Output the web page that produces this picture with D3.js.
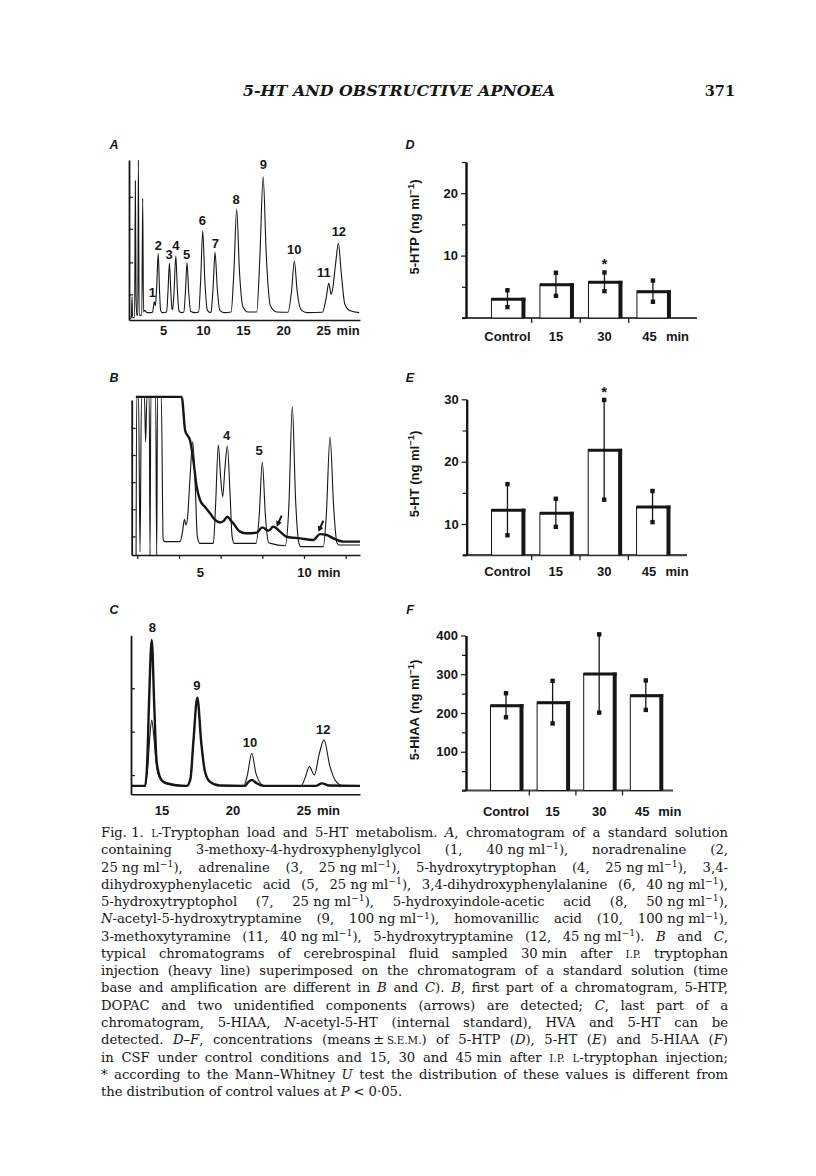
<!DOCTYPE html>
<html><head><meta charset="utf-8">
<script src="https://cdn.jsdelivr.net/npm/d3@7"></script>
<style>body{margin:0;background:#fff}svg{display:block}</style>
</head><body>
<svg id="page" width="816" height="1176"></svg>
<script>
// ---------------- DATA ----------------
// Chromatogram A (standard solution): [time (min), detector signal (arbitrary units)]
const traceA = [[0.85,1],[1.05,1.5],[1.13,14.6],[1.2,1.5],[1.45,1.5],[1.54,87],[1.63,15],[1.72,3],[1.85,3],[1.92,100],[2.02,3],[2.35,3],[2.46,76],[2.56,5],[2.7,6],[3.0,4.6],[3.5,4.6],
 [3.7,5],[3.8,8],[3.9,11.4],[4.05,9],[4.2,20],[4.4,41.7],[4.55,20],[4.7,6],[4.9,4.6],
 [5.45,5],[5.62,18],[5.8,35.4],[5.97,18],[6.12,7],[6.2,6.5],[6.35,15],[6.6,40],[6.78,20],[7.0,5.5],[7.3,4.6],
 [7.6,5],[7.8,18],[8.0,35.8],[8.2,18],[8.45,5.5],[9.0,4.6],[9.45,5],[9.7,25],[9.96,55.8],[10.22,25],[10.55,6],[10.9,4.6],
 [11.0,5],[11.25,20],[11.5,42.3],[11.77,20],[12.1,6],[12.6,4.6],[13.5,5],[13.85,30],[14.2,69.2],[14.55,30],[15.0,8],[15.6,5],
 [16.7,5],[17.1,40],[17.5,89.6],[17.9,40],[18.4,9],[19.2,5],[20.6,4.8],[21.05,18],[21.4,36.9],[21.75,18],[22.3,6],[23.0,4.6],
 [24.9,4.8],[25.35,13],[25.7,22.9],[26.0,16],[26.2,20],[26.55,35],[26.9,47.9],[27.25,30],[27.7,10],[28.3,6],[29.5,4.6]];
const peakLabelsA = [["1",3.66,14.6],["2",4.41,43.75],["3",5.75,38.1],["4",6.59,43.6],["5",7.96,38.1],["6",9.91,59.4],
 ["7",11.54,45.2],["8",14.13,72.3],["9",17.54,94.4],["10",21.38,41.25],["11",25.1,26.7],["12",26.96,52.5]];
const timeTicksA = [5,10,15,20,25];
const signalTicksA = [16,36,57,77];

// Chromatogram B: standard (thin) and CSF (heavy)
const traceBstd = [[1.94,0],[1.97,102],[2.06,102],[2.13,2],[2.2,102],[2.34,102],[2.4,73],[2.46,102],[2.57,102],[2.61,0],[2.65,102],[2.88,102],[2.93,0],[2.97,102],[3.15,102],[3.24,10],[3.33,8.6],
 [4.05,8.6],[4.18,16],[4.26,23],[4.33,19.4],[4.4,22.6],[4.53,50],[4.66,73],[4.78,45],[4.88,12],[5.0,7.5],[5.65,7.5],[5.75,30],[5.89,71],[6.0,50],[6.1,37.6],[6.2,55],[6.32,70.3],[6.45,40],[6.55,12],[6.65,7.5],
 [7.7,7.5],[7.85,25],[8.0,60],[8.15,25],[8.3,8],[8.4,7.5],[9.1,6],[9.27,30],[9.44,95.7],[9.6,35],[9.75,8],[9.85,5.4],[10.93,5.4],[11.07,25],[11.25,76.3],[11.43,30],[11.58,8],[11.68,6.5],[12.69,6.5]];
const traceBcsf = [[1.93,102],[4.13,102],[4.3,80],[4.53,74],[4.69,61],[4.85,44],[5.01,35.5],[5.25,31],[5.49,27],[5.73,22.6],[5.97,21],[6.15,22],[6.32,24.7],[6.5,22],[6.61,20.4],[6.93,15.1],[7.25,14],[7.73,14.4],
 [8.0,17.8],[8.29,15.7],[8.53,18.3],[8.85,15.1],[9.17,11.8],[9.81,10.75],[10.45,9.7],[10.77,13.5],[11.09,12.9],[11.41,10.75],[11.89,8.6],[12.69,8.6]];
const peakLabelsB = [["4",6.29,74.2],["5",7.85,64.5]];
const arrowsB = [[8.69,18.3],[10.69,15.0]];
const timeTicksB = [2,4,6,8,10,12];
const timeLabelsB = [5,10];
const signalTicksB = [12,29.5,47,64.5,82];

// Chromatogram C: standard (thin) and CSF (heavy)
const traceCstd = [[12.86,5.3],[13.85,5.3],[14.05,18],[14.2,38],[14.32,46.7],[14.48,35],[14.65,18],[14.9,10],[15.3,7.5],[16.1,6],[16.8,5.3],[17.05,10],[17.25,33],[17.53,60.8],[17.8,33],[18.05,15],[18.4,8],[19.1,5.5],
 [20.8,5.3],[21.05,12],[21.36,25.8],[21.66,13],[22.2,5.5],[24.85,5.3],[25.1,10],[25.42,17.4],[25.77,12.1],[26.1,25],[26.45,34.2],[26.85,18],[27.3,8],[27.8,5.3],[28.98,5.3]];
const traceCcsf = [[12.86,5.3],[13.85,5.3],[14.0,20],[14.12,55],[14.32,97],[14.5,55],[14.65,22],[14.85,12],[15.1,8],[15.5,6.5],[16.1,5.5],[16.8,5.3],[17.05,10],[17.25,33],[17.53,60.8],[17.8,33],[18.05,15],[18.4,8],[19.1,5.5],
 [20.9,5.3],[21.1,7.5],[21.36,9],[21.7,7],[22.2,5.3],[25.9,5.3],[26.29,6.9],[26.8,5.5],[28.98,5.3]];
const peakLabelsC = [["8",14.36,102],["9",17.49,65.9],["10",21.24,29.7],["12",26.4,38.2]];
const timeTicksC = [15,20,25];
const signalTicksC = [12.1,39.4,66.7];

// Bar charts D-F (means ± S.E.M.)
const groups = ["Control","15","30","45"];
const htpMean = [3.1,5.4,5.8,4.3];
const htpSem = [1.35,1.85,1.5,1.7];
const htpSig = [false,false,true,false];
const htpTicks = [10,20], htpMinor = [0,5,15,25];
const htMean = [12.3,11.8,21.9,12.8];
const htSem = [4.1,2.25,8.0,2.5];
const htSig = [false,false,true,false];
const htTicks = [10,20,30], htMinor = [5,15,25];
const hiaaMean = [220,228,302,246];
const hiaaSem = [31,55,101,38];
const hiaaSig = [false,false,false,false];
const hiaaTicks = [100,200,300,400], hiaaMinor = [0,50,150,250,350];

// Caption (_italic_, ^superscript^, ~small caps~, + = no-break space, = thin space)
const captionLines = [
 "Fig.+1. ~L~-Tryptophan load and 5-HT metabolism. _A_, chromatogram of a standard solution",
 "containing 3-methoxy-4-hydroxyphenylglycol (1, 40+ng+ml^−1^), noradrenaline (2,",
 "25+ng+ml^−1^), adrenaline (3, 25+ng+ml^−1^), 5-hydroxytryptophan (4, 25+ng+ml^−1^), 3,4-",
 "dihydroxyphenylacetic acid (5, 25+ng+ml^−1^), 3,4-dihydroxyphenylalanine (6, 40+ng+ml^−1^),",
 "5-hydroxytryptophol (7, 25+ng+ml^−1^), 5-hydroxyindole-acetic acid (8, 50+ng+ml^−1^),",
 "_N_-acetyl-5-hydroxytryptamine (9, 100+ng+ml^−1^), homovanillic acid (10, 100+ng+ml^−1^),",
 "3-methoxytyramine (11, 40+ng+ml^−1^), 5-hydroxytryptamine (12, 45+ng+ml^−1^). _B_ and _C_,",
 "typical chromatograms of cerebrospinal fluid sampled 30+min after ~I.P.~ tryptophan",
 "injection (heavy line) superimposed on the chromatogram of a standard solution (time",
 "base and amplification are different in _B_ and _C_). _B_, first part of a chromatogram, 5-HTP,",
 "DOPAC and two unidentified components (arrows) are detected; _C_, last part of a",
 "chromatogram, 5-HIAA, _N_-acetyl-5-HT (internal standard), HVA and 5-HT can be",
 "detected. _D–F_, concentrations (means=±=~S.E.M.~) of 5-HTP (_D_), 5-HT (_E_) and 5-HIAA (_F_)",
 "in CSF under control conditions and 15, 30 and 45+min after ~I.P.~ ~L~-tryptophan injection;",
 "* according to the Mann–Whitney _U_ test the distribution of these values is different from",
 "the distribution of control values at _P_ < 0·05."
];

// ---------------- DRAWING ----------------
const svg = d3.select('#page');
const SANS = "'Liberation Sans', Arial, Helvetica, sans-serif";
const SERIF = "'DejaVu Serif', 'Liberation Serif', serif";
const INK = '#161616';

// header
svg.append('text').attr('x',243).attr('y',96).attr('textLength',312).attr('lengthAdjust','spacingAndGlyphs')
  .attr('font-family',SERIF).attr('font-style','italic').attr('font-weight','bold').attr('font-size',14.5).attr('fill',INK)
  .text('5-HT AND OBSTRUCTIVE APNOEA');
svg.append('text').attr('x',735).attr('y',96).attr('text-anchor','end')
  .attr('font-family',SERIF).attr('font-weight','bold').attr('font-size',14.5).attr('fill',INK).text('371');

function panelLetter(t,x,y){
  svg.append('text').attr('x',x).attr('y',y).attr('text-anchor','middle').attr('font-family',SANS)
    .attr('font-style','italic').attr('font-weight','bold').attr('font-size',12.5).attr('fill',INK).text(t);
}
panelLetter('A',114,149); panelLetter('B',114,382); panelLetter('C',114,614);
panelLetter('D',410,149); panelLetter('E',410,382); panelLetter('F',410,614);

function line(data,x,y,w){
  svg.append('path').datum(data)
    .attr('d',d3.line().x(d=>x(d[0])).y(d=>y(d[1])).curve(d3.curveMonotoneX))
    .attr('fill','none').attr('stroke',INK).attr('stroke-width',w).attr('stroke-linejoin','round');
}
function styleAxis(g,w){
  g.select('.domain').attr('stroke',INK).attr('stroke-width',w);
  g.selectAll('.tick line').attr('stroke',INK).attr('stroke-width',1.2);
  g.selectAll('.tick text').attr('font-family',SANS).attr('font-weight','bold').attr('font-size',13).attr('fill',INK);
}

function chrom(o){
  const x = d3.scaleLinear().domain(o.xd).range(o.xr);
  const y = d3.scaleLinear().domain([0,100]).range(o.yr);
  const gy = svg.append('g').attr('transform',`translate(${o.xr[0]},0)`)
    .call(d3.axisRight(y).tickValues(o.yTicks).tickSize(4).tickSizeOuter(0).tickFormat(''));
  styleAxis(gy,1.8);
  const gx = svg.append('g').attr('transform',`translate(0,${o.yr[0]})`)
    .call(d3.axisBottom(x).tickValues(o.xTicks).tickSize(o.tickLen).tickSizeOuter(0).tickFormat(''));
  styleAxis(gx,1.6);
  const gl = svg.append('g').attr('transform',`translate(0,${o.yr[0]})`)
    .call(d3.axisBottom(x).tickValues(o.xLabels).tickSize(0).tickPadding(o.pad).tickFormat(d3.format('d')));
  styleAxis(gl,0); gl.select('.domain').remove();
  const last = o.xLabels[o.xLabels.length-1];
  svg.append('text').attr('x',x(last)+25).attr('y',o.yr[0]+o.pad+9.2).attr('text-anchor','middle')
    .attr('font-family',SANS).attr('font-weight','bold').attr('font-size',13).attr('fill',INK).text('min');
  o.traces.forEach(tr=>line(tr[0],x,y,tr[1]));
  o.labels.forEach(l=>{
    svg.append('text').attr('x',x(l[1])).attr('y',y(l[2])).attr('text-anchor','middle')
      .attr('font-family',SANS).attr('font-weight','bold').attr('font-size',13).attr('fill',INK).text(l[0]);
  });
  return {x,y};
}

chrom({xd:[0.75,29.6],xr:[129,360],yr:[320,160],yTicks:signalTicksA,xTicks:[],xLabels:timeTicksA,tickLen:0,pad:5.8,
  traces:[[traceA,1.1]],labels:peakLabelsA});
const sB = chrom({xd:[1.73,12.69],xr:[131.7,360],yr:[555,400],yTicks:signalTicksB,xTicks:timeTicksB,xLabels:timeLabelsB,tickLen:4,pad:12.3,
  traces:[[traceBstd,1.1],[traceBcsf,2.4]],labels:peakLabelsB});
chrom({xd:[12.86,28.98],xr:[131,360],yr:[794.3,635.3],yTicks:signalTicksC,xTicks:[],xLabels:timeTicksC,tickLen:0,pad:11.5,
  traces:[[traceCstd,1.1],[traceCcsf,2.4]],labels:peakLabelsC});

// arrows in B
arrowsB.forEach(a=>{
  const tx = sB.x(a[0]), ty = sB.y(a[1]);
  const sx = tx+5, sy = ty-11;
  const ang = Math.atan2(ty-sy, tx-sx);
  svg.append('line').attr('x1',sx).attr('y1',sy).attr('x2',tx-4*Math.cos(ang)).attr('y2',ty-4*Math.sin(ang))
    .attr('stroke',INK).attr('stroke-width',2);
  const hl=5.5, hw=3;
  const bx = tx-hl*Math.cos(ang), by = ty-hl*Math.sin(ang);
  svg.append('path').attr('d',`M${tx},${ty}L${bx+hw*Math.sin(ang)},${by-hw*Math.cos(ang)}L${bx-hw*Math.sin(ang)},${by+hw*Math.cos(ang)}Z`)
    .attr('fill',INK);
});

function bars(o){
  const x = d3.scaleBand().domain(groups).range(o.xr).paddingInner(o.pad).paddingOuter(o.pad/2);
  const y = d3.scaleLinear().domain(o.dom).range(o.yr);
  const y0 = y(o.dom[0]), bw = x.bandwidth();
  svg.append('line').attr('x1',o.ax-4).attr('x2',o.xEnd).attr('y1',y0).attr('y2',y0).attr('stroke','#444').attr('stroke-width',2.2);
  groups.slice(1).forEach(g=>{
    const xx = x(g) - x.step()*o.pad/2;
    svg.append('line').attr('x1',xx).attr('x2',xx).attr('y1',y0).attr('y2',y0+5).attr('stroke',INK).attr('stroke-width',1.2);
  });
  const ga = svg.append('g').attr('transform',`translate(${o.ax},0)`)
    .call(d3.axisLeft(y).tickValues(o.ticks).tickSize(5).tickPadding(3).tickSizeOuter(0));
  styleAxis(ga,2);
  const gm = svg.append('g').attr('transform',`translate(${o.ax},0)`)
    .call(d3.axisLeft(y).tickValues(o.minor).tickSize(4).tickSizeOuter(0).tickFormat(''));
  styleAxis(gm,2);
  groups.forEach((g,i)=>{
    const bx = x(g), ty = y(o.mean[i]);
    svg.append('rect').attr('x',bx).attr('y',ty).attr('width',bw).attr('height',y0-ty)
      .attr('fill','#fff').attr('stroke',INK).attr('stroke-width',1);
    svg.append('line').attr('x1',bx).attr('x2',bx+bw+2).attr('y1',ty+0.5).attr('y2',ty+0.5).attr('stroke',INK).attr('stroke-width',3);
    svg.append('line').attr('x1',bx+bw).attr('x2',bx+bw).attr('y1',ty-1).attr('y2',y0).attr('stroke',INK).attr('stroke-width',4);
    const cx = bx+bw/2, e1 = y(o.mean[i]+o.sem[i]), e2 = y(o.mean[i]-o.sem[i]);
    svg.append('line').attr('x1',cx).attr('x2',cx).attr('y1',e1).attr('y2',e2).attr('stroke',INK).attr('stroke-width',1.3);
    [e1,e2].forEach(e=>svg.append('rect').attr('x',cx-2.2).attr('y',e-2.2).attr('width',4.4).attr('height',4.4).attr('fill',INK));
    if(o.sig[i]) svg.append('text').attr('x',cx).attr('y',e1-3).attr('text-anchor','middle')
      .attr('font-family',SANS).attr('font-weight','bold').attr('font-size',15).attr('fill',INK).text('*');
    const isLast = i===groups.length-1;
    svg.append('text').attr('x',cx-(isLast?3.5:0)).attr('y',o.labY).attr('text-anchor','middle')
      .attr('font-family',SANS).attr('font-weight','bold').attr('font-size',13).attr('fill',INK).text(g);
    if(isLast) svg.append('text').attr('x',cx+bw/2-3).attr('y',o.labY).attr('text-anchor','start')
      .attr('font-family',SANS).attr('font-weight','bold').attr('font-size',13).attr('fill',INK).text('min');
  });
  const t = svg.append('text').attr('transform',`translate(${o.titleX},${o.titleY}) rotate(-90)`).attr('text-anchor','middle')
    .attr('font-family',SANS).attr('font-weight','bold').attr('font-size',13).attr('fill',INK);
  t.append('tspan').text(o.title+' (ng ml');
  t.append('tspan').attr('dy',-5).attr('font-size',9.5).text('−1');
  t.append('tspan').attr('dy',5).text(')');
}

bars({xr:[483.2,677.2],pad:0.34,dom:[0,25],yr:[318,162],ax:466,xEnd:697,ticks:htpTicks,minor:htpMinor,
  mean:htpMean,sem:htpSem,sig:htpSig,labY:341,title:'5-HTP',titleX:419,titleY:227});
bars({xr:[483.3,676.7],pad:0.34,dom:[5,30],yr:[555.2,399.3],ax:466.7,xEnd:687,ticks:htTicks,minor:htMinor,
  mean:htMean,sem:htSem,sig:htSig,labY:576,title:'5-HT',titleX:419,titleY:474});
bars({xr:[482.7,669.1],pad:0.335,dom:[0,400],yr:[790.5,635.5],ax:466,xEnd:673,ticks:hiaaTicks,minor:hiaaMinor,
  mean:hiaaMean,sem:hiaaSem,sig:hiaaSig,labY:816,title:'5-HIAA',titleX:419,titleY:710});

// caption
const CFS = 13.2, CX0 = 101, CX1 = 728, CY0 = 837, CDY = 17.27, MINGAP = 3.2;
function runs(word){
  const out=[]; let cur='', it=false, sup=false, sc=false;
  const push=()=>{ if(cur) out.push({t:cur,it,sup,sc}); cur=''; };
  for(const ch of word){
    if(ch==='_'){push(); it=!it;}
    else if(ch==='^'){push(); sup=!sup;}
    else if(ch==='~'){push(); sc=!sc;}
    else cur += ch==='+' ? '\u00a0' : ch==='=' ? '\u2009' : ch;
  }
  push(); return out;
}
captionLines.forEach((ln,li)=>{
  const y = CY0 + li*CDY;
  const words = ln.split(' ');
  const nodes = words.map(w=>{
    const t = svg.append('text').attr('y',y).attr('font-family',SERIF).attr('font-size',CFS).attr('fill',INK);
    let shifted=false;
    runs(w).forEach(r=>{
      const ts = t.append('tspan').text(r.t);
      if(r.it) ts.attr('font-style','italic');
      if(r.sc) ts.attr('font-size',CFS*0.78);
      if(r.sup){ ts.attr('dy',-4.8).attr('font-size',CFS*0.7); shifted=true; }
      else if(shifted){ ts.attr('dy',4.8); shifted=false; }
    });
    return t;
  });
  let widths = nodes.map(n=>n.node().getComputedTextLength());
  const total = d3.sum(widths);
  const last = li===captionLines.length-1;
  let gap = last ? CFS*0.3 : (CX1-CX0-total)/(words.length-1);
  if(!last && gap < MINGAP){
    const f = (CX1-CX0-MINGAP*(words.length-1))/total;
    widths = widths.map(w=>w*f);
    nodes.forEach((n,i)=>n.attr('textLength',widths[i]).attr('lengthAdjust','spacingAndGlyphs'));
    gap = MINGAP;
  }
  let xx = CX0;
  nodes.forEach((n,i)=>{ n.attr('x',xx); xx += widths[i]+gap; });
});
</script>
</body></html>
